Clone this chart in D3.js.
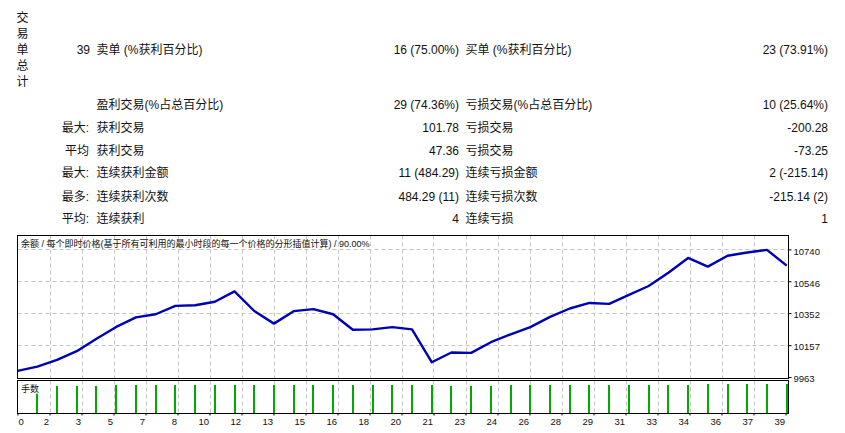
<!DOCTYPE html>
<html><head><meta charset="utf-8">
<script src="https://cdn.jsdelivr.net/npm/d3@7"></script>
<style>
html,body{margin:0;padding:0;background:#fff;}
svg{display:block;}
text{font-family:"Liberation Sans","Noto Sans CJK SC",sans-serif;fill:#111;}
</style></head><body>
<svg id="c" width="845" height="433"></svg>
<script>
// ---------- data ----------
const verticalTitle = ["交", "易", "单", "总", "计"];
const totalTrades = "39";
const shortLabel = "卖单 (%获利百分比)";
const shortValue = "16 (75.00%)";
const longLabel = "买单 (%获利百分比)";
const longValue = "23 (73.91%)";
const rowPrefixes = ["", "最大:", "平均", "最大:", "最多:", "平均:"];
const winLabels = ["盈利交易(%占总百分比)", "获利交易", "获利交易", "连续获利金额", "连续获利次数", "连续获利"];
const winValues = ["29 (74.36%)", "101.78", "47.36", "11 (484.29)", "484.29 (11)", "4"];
const lossLabels = ["亏损交易(%占总百分比)", "亏损交易", "亏损交易", "连续亏损金额", "连续亏损次数", "连续亏损"];
const lossValues = ["10 (25.64%)", "-200.28", "-73.25", "2 (-215.14)", "-215.14 (2)", "1"];

const chartTitle = "余额 / 每个即时价格(基于所有可利用的最小时段的每一个价格的分形插值计算) / 90.00%";
const lotsTitle = "手数";

const balance = [10000, 10026, 10067, 10120, 10196, 10268, 10326, 10345, 10396, 10400,
  10421, 10484.29, 10365, 10288, 10364, 10376, 10345, 10251, 10253, 10267,
  10253, 10053, 10112, 10110, 10175, 10223, 10267, 10329, 10380, 10414,
  10408, 10463, 10517, 10598, 10688, 10635, 10701, 10721, 10737, 10641];
const lots = [0.20, 0.28, 0.28, 0.28, 0.29, 0.29, 0.29, 0.29, 0.29, 0.29,
  0.29, 0.29, 0.29, 0.29, 0.29, 0.29, 0.29, 0.29, 0.29, 0.29,
  0.29, 0.28, 0.28, 0.28, 0.29, 0.29, 0.29, 0.29, 0.29, 0.29,
  0.29, 0.29, 0.29, 0.29, 0.30, 0.30, 0.30, 0.30, 0.30];
const yTickValues = [9963, 10157, 10352, 10546, 10740];
const xTickLabels = ["0","2","3","5","7","8","10","12","13","15","16","18","20","21","23","24","26","28","29","31","33","34","36","37","39"];

// ---------- layout ----------
const svg = d3.select("#c");
svg.append("rect").attr("width", 845).attr("height", 433).attr("fill", "#fff");

const L = 17.5, R = 788.5;
const mainTop = 235.5, mainBottom = 378.5;
const lotsTop = 380.5, lotsBottom = 413.5;

// ---------- table ----------
const tbl = svg.append("g").style("font-size", "12px").attr("dominant-baseline", "central");
verticalTitle.forEach((ch, i) => {
  tbl.append("text").attr("x", 22.5).attr("y", 17.5 + i * 16.1).attr("text-anchor", "middle").text(ch);
});
const row1 = 50;
tbl.append("text").attr("x", 90).attr("y", row1).attr("text-anchor", "end").text(totalTrades);
tbl.append("text").attr("x", 96.5).attr("y", row1).text(shortLabel);
tbl.append("text").attr("x", 459).attr("y", row1).attr("text-anchor", "end").text(shortValue);
tbl.append("text").attr("x", 465.5).attr("y", row1).text(longLabel);
tbl.append("text").attr("x", 828).attr("y", row1).attr("text-anchor", "end").text(longValue);

const rowYs = [104.8, 127.7, 150.7, 173.4, 196.5, 219.4];
winLabels.forEach((lab, i) => {
  const y = rowYs[i];
  if (rowPrefixes[i]) tbl.append("text").attr("x", 89).attr("y", y).attr("text-anchor", "end").text(rowPrefixes[i]);
  tbl.append("text").attr("x", 96.5).attr("y", y).text(lab);
  tbl.append("text").attr("x", 459).attr("y", y).attr("text-anchor", "end").text(winValues[i]);
  tbl.append("text").attr("x", 465.5).attr("y", y).text(lossLabels[i]);
  tbl.append("text").attr("x", 828).attr("y", y).attr("text-anchor", "end").text(lossValues[i]);
});

// ---------- scales ----------
const x = d3.scaleLinear().domain([0, balance.length - 1]).range([17.6, 786.7]);
const gridX = d3.scaleLinear().domain([0, xTickLabels.length - 1]).range([L, L + 32 * (xTickLabels.length - 1)]);
const y = d3.scaleLinear().domain([9963, 10740]).range([377, 249.4]);
const yLots = d3.scaleLinear().domain([0, 0.30]).range([413, 384]);

const gridColor = "#c4c4c4";
// vertical grid
const vIdx = d3.range(1, xTickLabels.length - 1);
svg.append("g").selectAll("line").data(vIdx).join("line")
  .attr("x1", d => Math.round(gridX(d)) + 0.5).attr("x2", d => Math.round(gridX(d)) + 0.5)
  .attr("y1", mainTop).attr("y2", mainBottom)
  .attr("stroke", gridColor).attr("stroke-dasharray", "4,3");
svg.append("g").selectAll("line").data(vIdx).join("line")
  .attr("x1", d => Math.round(gridX(d)) + 0.5).attr("x2", d => Math.round(gridX(d)) + 0.5)
  .attr("y1", lotsTop).attr("y2", lotsBottom)
  .attr("stroke", gridColor).attr("stroke-dasharray", "4,3");
// horizontal grid
svg.append("g").selectAll("line").data(yTickValues.slice(1)).join("line")
  .attr("x1", L).attr("x2", R)
  .attr("y1", d => Math.round(y(d)) + 0.5).attr("y2", d => Math.round(y(d)) + 0.5)
  .attr("stroke", gridColor).attr("stroke-dasharray", "4,3");

// balance line
svg.append("defs").append("clipPath").attr("id", "clipMain")
  .append("rect").attr("x", L).attr("y", mainTop).attr("width", R - L).attr("height", mainBottom - mainTop);
svg.append("path")
  .datum(balance)
  .attr("clip-path", "url(#clipMain)")
  .attr("fill", "none").attr("stroke", "#0000b4").attr("stroke-width", 2.4)
  .attr("stroke-linejoin", "round")
  .attr("d", d3.line().x((d, i) => x(i)).y(d => y(d)));

// lots bars
svg.append("g").selectAll("rect").data(lots).join("rect")
  .attr("x", (d, i) => Math.round(x(i + 1)) - 1)
  .attr("width", 2)
  .attr("y", d => yLots(d))
  .attr("height", d => yLots(0) - yLots(d))
  .attr("fill", "#00aa00");

// frames
svg.append("rect").attr("x", L).attr("y", mainTop).attr("width", R - L).attr("height", mainBottom - mainTop)
  .attr("fill", "none").attr("stroke", "#000");
svg.append("rect").attr("x", L).attr("y", lotsTop).attr("width", R - L).attr("height", lotsBottom - lotsTop)
  .attr("fill", "none").attr("stroke", "#000");

// titles in panels
svg.append("text").attr("x", 21).attr("y", 244).attr("dominant-baseline", "central")
  .style("font-size", "9px").text(chartTitle);
svg.append("text").attr("x", 21).attr("y", 389).attr("dominant-baseline", "central")
  .style("font-size", "9px").text(lotsTitle);

// y axis (right)
const yAxis = svg.append("g").attr("transform", `translate(${R},0)`)
  .call(d3.axisRight(y).tickValues(yTickValues).tickSize(3).tickPadding(2).tickFormat(d3.format("d")));
yAxis.select(".domain").remove();
yAxis.selectAll("text").style("font-size", "9.5px").attr("dy", "0.5em").attr("fill", "#111").style("font-family", "Liberation Sans, sans-serif");

// x axis (bottom)
const xAxis = svg.append("g").attr("transform", `translate(0,${lotsBottom})`)
  .call(d3.axisBottom(gridX).tickValues(d3.range(xTickLabels.length)).tickSize(2).tickPadding(3)
    .tickFormat(i => xTickLabels[i]));
xAxis.select(".domain").remove();
xAxis.selectAll("text").style("font-size", "9.5px").attr("fill", "#111")
  .style("font-family", "Liberation Sans, sans-serif")
  .attr("text-anchor", (d, i) => i === 0 ? "start" : "end")
  .attr("x", (d, i) => i === 0 ? 0.5 : -1);
</script>
</body></html>
